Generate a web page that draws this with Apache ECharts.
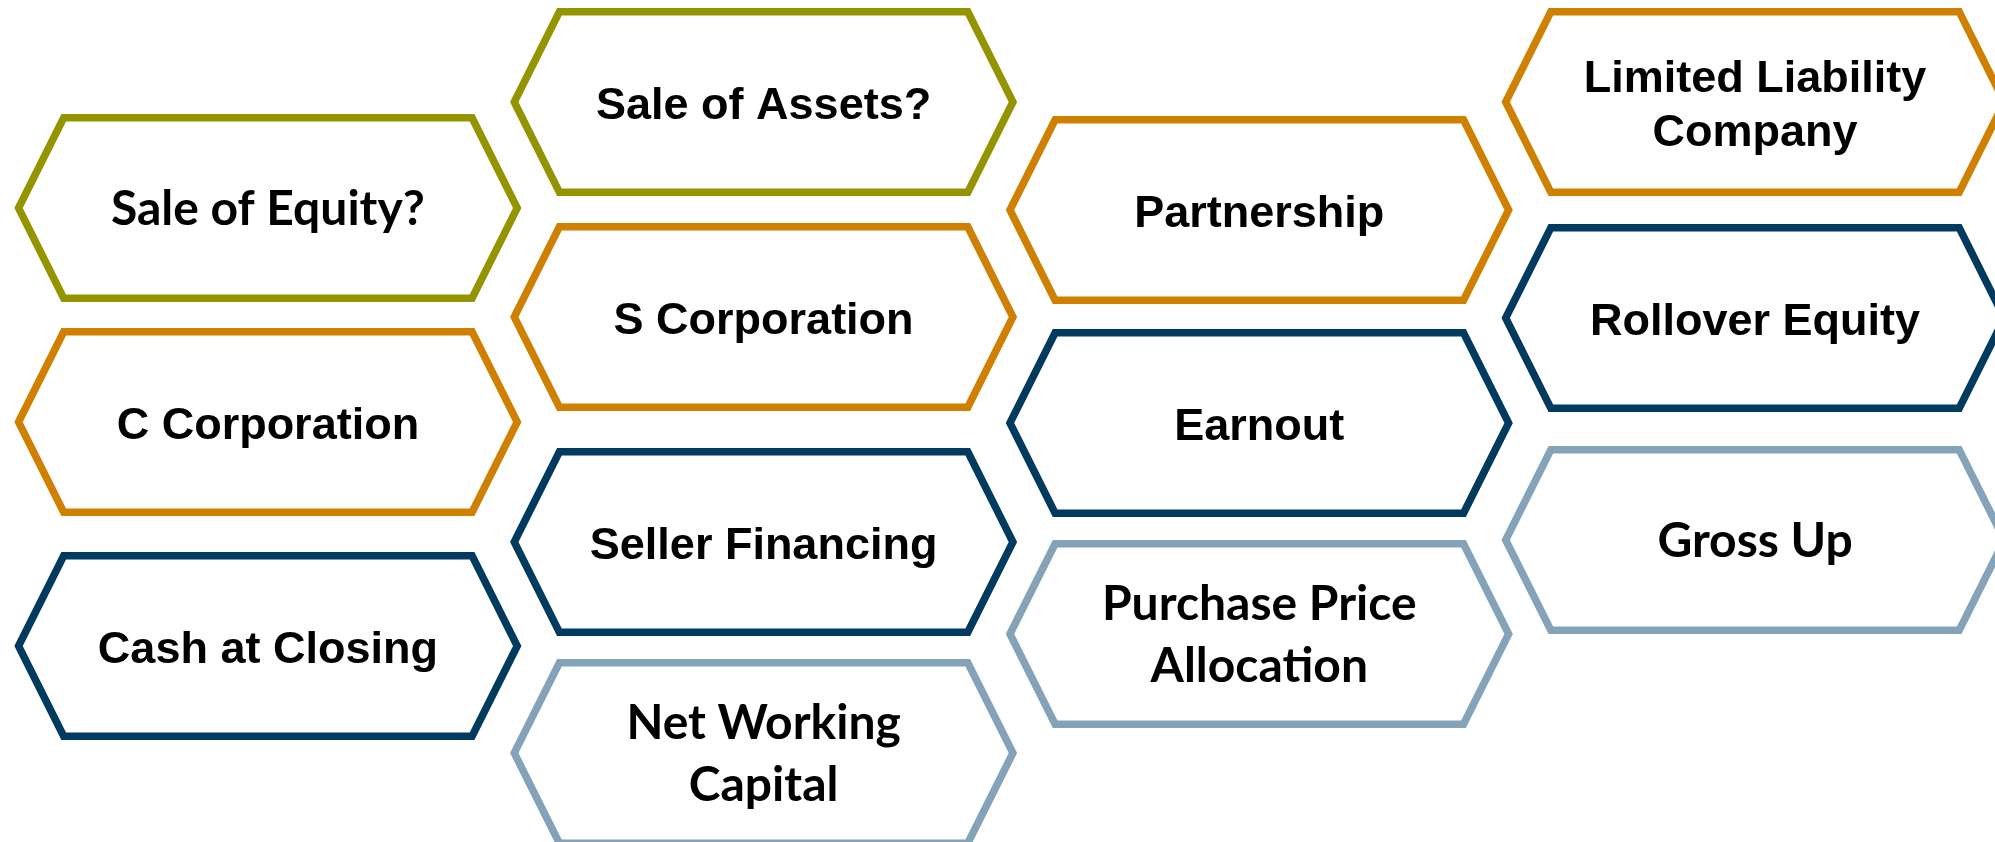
<!DOCTYPE html>
<html>
<head>
<meta charset="utf-8">
<title>Deal structure terms</title>
<script src="https://cdn.jsdelivr.net/npm/echarts@6/dist/echarts.min.js"></script>
<style>
  html, body { margin: 0; padding: 0; background: #ffffff; }
  #chart { width: 1995px; height: 842px; }
</style>
</head>
<body>
<div id="chart"></div>
<script>
// terms shown in the hexagons, column by column
const labels = [
  "Sale of Equity?", "C Corporation", "Cash at Closing",
  "Sale of Assets?", "S Corporation", "Seller Financing", "Net Working\nCapital",
  "Partnership", "Earnout", "Purchase Price\nAllocation",
  "Limited Liability\nCompany", "Rollover Equity", "Gross Up"
];
// column of each hexagon (0 = left)
const columns = [0, 0, 0, 1, 1, 1, 1, 2, 2, 2, 3, 3, 3];
// vertical level of each hexagon centre
const levels = [2.08, 4.22, 6.46, 1.02, 3.17, 5.42, 7.53, 2.10, 4.23, 6.34, 1.02, 3.18, 5.40];
// topic group of each term, drives the outline colour
const groups = [
  "question", "entity", "payment",
  "question", "entity", "payment", "adjustment",
  "entity", "payment", "adjustment",
  "entity", "payment", "adjustment"
];

const groupColors = {
  question: "#949400",
  entity: "#D08000",
  payment: "#003A5E",
  adjustment: "#84A3B8"
};
// these were set in a Calibri-like face, the rest in Arial
const calibriTerms = ["Sale of Equity?", "Net Working\nCapital", "Purchase Price\nAllocation", "Gross Up"];

const HALF_W = 0.503;  // x units, tip to centre
const HALF_H = 0.903;  // y units, flat edge to centre

const seriesData = labels.map((name, i) => ({
  name: name,
  value: [columns[i], levels[i], i]
}));

function renderHex(params, api) {
  const i = api.value(2);
  const c = api.coord([api.value(0), api.value(1)]);
  const hw = api.size([HALF_W, 0])[0];
  const hh = api.size([0, HALF_H])[1];
  const edge = hw - hh / 2;
  const calibri = calibriTerms.indexOf(labels[i]) >= 0;
  return {
    type: "group",
    children: [
      {
        type: "polygon",
        shape: {
          points: [
            [c[0] - hw, c[1]],
            [c[0] - edge, c[1] - hh],
            [c[0] + edge, c[1] - hh],
            [c[0] + hw, c[1]],
            [c[0] + edge, c[1] + hh],
            [c[0] - edge, c[1] + hh]
          ]
        },
        style: {
          fill: "#ffffff",
          stroke: groupColors[groups[i]],
          lineWidth: 7.5,
          lineJoin: "miter"
        }
      },
      {
        type: "text",
        style: {
          text: labels[i],
          x: c[0],
          y: c[1] + (calibri ? 2 : 5),
          align: "center",
          verticalAlign: "middle",
          fontFamily: calibri ? "Lato" : "Liberation Sans",
          fontWeight: "bold",
          fontSize: calibri ? 48 : 45,
          lineHeight: calibri ? 62 : 54,
          fill: "#000000"
        }
      }
    ]
  };
}

const chart = echarts.init(document.getElementById("chart"));
chart.setOption({
  animation: false,
  backgroundColor: "#ffffff",
  grid: { left: 0, right: 0, top: 0, bottom: 0 },
  xAxis: { type: "value", min: -0.5404, max: 3.4841, show: false },
  yAxis: { type: "value", min: 0, max: 8.42, inverse: true, show: false },
  series: [
    {
      type: "custom",
      coordinateSystem: "cartesian2d",
      renderItem: renderHex,
      data: seriesData,
      clip: true
    }
  ]
});
window.addEventListener("resize", () => {
  chart.resize();
});
</script>
</body>
</html>
